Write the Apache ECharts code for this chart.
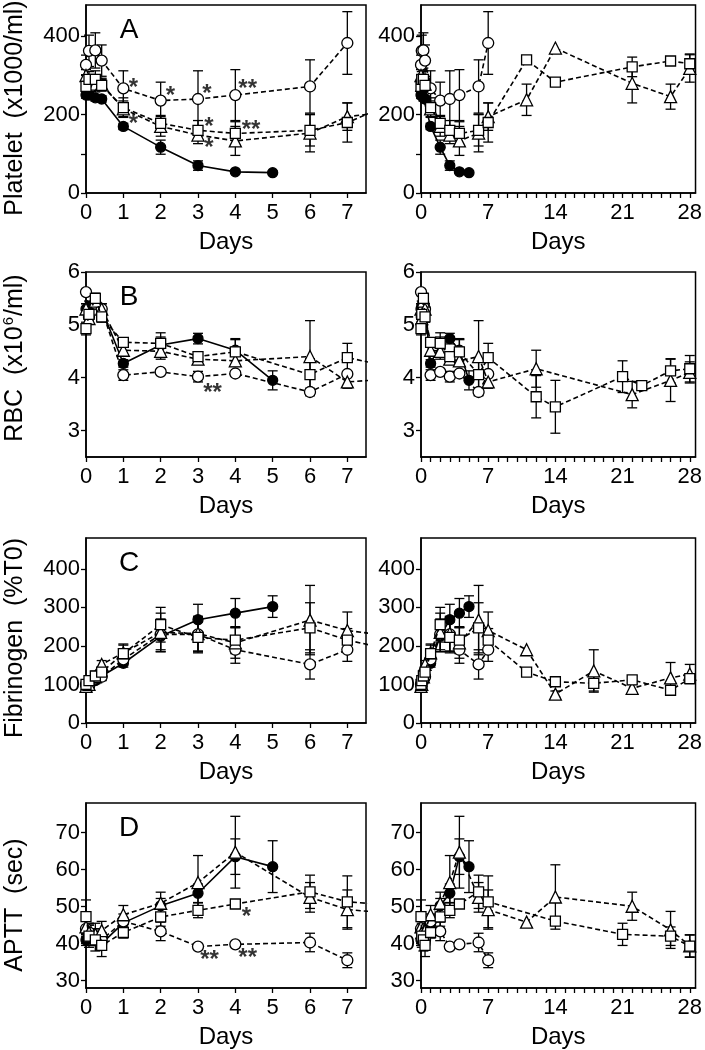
<!DOCTYPE html>
<html><head><meta charset="utf-8">
<script src="https://cdn.jsdelivr.net/npm/echarts@6/dist/echarts.min.js"></script>
<style>html,body{margin:0;padding:0;background:#fff}#c{width:705px;height:1050px}</style>
</head><body><div id="c"></div><script>
// ---- data: [day, mean, error] ----
const pltCtrl = [[0,250,8],[0.08,250,10],[0.25,243,8],[0.42,240,8],[1,170,8],[2,117,18],[3,70,12],[4,54,4],[5,52,3]];
const pltCirc = [[0,327,25],[0.08,363,40],[0.25,364,45],[0.42,338,40],[1,267,45],[2,236,47],[3,240,72],[4,250,65],[6,272,68],[7,383,80]];
const pltTri  = [[0,300,15],[0.08,275,20],[0.25,278,20],[0.42,278,15],[1,215,20],[2,170,25],[3,148,22],[4,133,37],[6,153,48],[7,195,35],[11,238,40],[14,370,0],[22,280,50],[26,246,32],[28,318,35]];
const pltSq   = [[0,272,20],[0.08,290,20],[0.25,290,22],[0.42,275,15],[1,218,25],[2,178,20],[3,160,25],[4,152,30],[6,160,40],[7,180,50],[11,340,0],[14,283,10],[22,322,25],[26,337,0],[28,330,25]];
const pltStars = [[1.27,283,'*'],[1.27,190,'*'],[2.26,262,'*'],[3.24,266,'*'],[3.29,184,'*'],[3.29,130,'*'],[4.33,279,'**'],[4.42,175,'**']];

const rbcCtrl = [[0,5.3,0.1],[0.08,5.35,0.1],[0.25,5.45,0.12],[0.42,5.3,0.1],[1,4.27,0.07],[2,4.62,0.15],[3,4.74,0.1],[4,4.52,0.2],[5,3.95,0.18]];
const rbcCirc = [[0,5.62,0.05],[0.08,5.15,0.1],[0.25,5.4,0.1],[0.42,5.3,0.1],[1,4.05,0.1],[2,4.11,0.05],[3,4.02,0.1],[4,4.08,0.05],[6,3.73,0.07],[7,4.07,0.05]];
const rbcTri  = [[0,5.3,0.1],[0.08,5.12,0.1],[0.25,5.45,0.1],[0.42,5.3,0.1],[1,4.52,0.1],[2,4.5,0.15],[3,4.35,0.1],[4,4.32,0.1],[6,4.4,0.68],[7,3.92,0.12],[12,4.17,0.35],[22,3.68,0.25],[26,3.95,0.4],[28,4.1,0.2]];
const rbcSq   = [[0,4.93,0.12],[0.08,5.2,0.1],[0.25,5.5,0.1],[0.42,5.15,0.1],[1,4.67,0.08],[2,4.65,0.2],[3,4.4,0.08],[4,4.49,0.25],[6,4.06,0.3],[7,4.38,0.27],[12,3.64,0.4],[14,3.45,0.5],[21,4.02,0.3],[23,3.85,0],[26,4.13,0.23],[28,4.17,0.25]];
const rbcStars = [[3.39,3.82,'**']];

const fibCtrl = [[0,100,5],[0.25,110,8],[0.42,122,10],[1,155,10],[2,225,40],[3,268,40],[4,285,38],[5,302,28]];
const fibCirc = [[0,100,5],[0.08,95,5],[0.25,115,10],[0.42,120,10],[1,165,15],[2,230,40],[3,230,45],[4,190,35],[6,152,38],[7,190,30]];
const fibTri  = [[0,95,5],[0.08,100,5],[0.25,120,10],[0.42,152,10],[1,182,20],[2,235,50],[3,232,45],[4,208,40],[6,267,90],[7,240,48],[11,190,0],[14,75,8],[18,135,55],[22,90,10],[26,117,40],[28,127,25]];
const fibSq   = [[0,100,5],[0.08,110,8],[0.25,122,12],[0.42,132,12],[1,180,25],[2,255,45],[3,222,40],[4,215,35],[6,247,65],[7,215,30],[11,132,0],[14,107,8],[18,103,20],[22,112,10],[26,85,10],[28,115,10]];
const fibStars = [];

const apttCtrl = [[0,41,1.5],[0.08,41.5,1.5],[0.25,41,1.5],[0.42,40,1.5],[1,45.6,1.5],[2,50.2,2],[3,53.6,2.5],[4,63.5,4.8],[5,60.8,7]];
const apttCirc = [[0,44,2],[0.08,43,2],[0.25,42,2],[0.42,41,2],[1,46,2],[2,43.3,2.5],[3,39.2,0.5],[4,39.8,0.4],[6,40.3,2.5],[7,35.5,2]];
const apttTri  = [[0,44.5,2],[0.08,43,2.5],[0.25,42.5,3],[0.42,43.5,2.5],[1,47.8,2.5],[2,50.9,3],[3,56.5,7.3],[4,64.7,9.7],[6,52.5,4],[7,49.2,5.3],[11,45.8,0],[14,52.6,8.7],[22,50.1,3.8],[26,43.7,5],[28,39.4,3]];
const apttSq   = [[0,47.3,4.5],[0.08,42,3],[0.25,41,3],[0.42,39.5,3],[1,43,1.5],[2,47.2,2.5],[3,49,2],[4,50.7,1],[6,54,4.5],[7,51.3,7],[14,46.1,0.5],[21,42.5,3],[26,42,2.5],[28,39.3,3]];
const apttStars = [[3.31,37.1,'**'],[4.33,37.6,'**'],[4.3,48.7,'*']];

const leftDayTicks = [0,1,2,3,4,5,6,7];
const rightDayLabels = [0,7,14,21,28];
const rightDayTicks = Array.from({length:29},(_,i)=>i);

const panels = [
  {letter:'A', series:[pltCtrl,pltCirc,pltTri,pltSq], stars:pltStars, min:0, max:480, labels:[0,200,400], ticks:[0,100,200,300,400], top:5, height:188,
   name:'{a|Platelet  (x1000/ml)}', nameY:108},
  {letter:'B', series:[rbcCtrl,rbcCirc,rbcTri,rbcSq], stars:rbcStars, min:2.5, max:6, labels:[3,4,5,6], ticks:[3,4,5,6], top:272, height:185,
   name:'{a|RBC  (x10}{s|6}{a|/ml)}', nameY:358},
  {letter:'C', series:[fibCtrl,fibCirc,fibTri,fibSq], stars:fibStars, min:0, max:480, labels:[0,100,200,300,400], ticks:[0,100,200,300,400], top:538, height:185,
   name:'{a|Fibrinogen  (%T0)}', nameY:638},
  {letter:'D', series:[apttCtrl,apttCirc,apttTri,apttSq], stars:apttStars, min:28, max:78, labels:[30,40,50,60,70], ticks:[30,40,50,60,70], top:803, height:185,
   name:'{a|APTT  (sec)}', nameY:905}
];

const FONT = 'Liberation Sans, Arial, Helvetica, sans-serif';
const LEFT_MAX = 7.5, RIGHT_MAX = 28.6;

const grids=[], xAxes=[], yAxes=[], series=[], graphics=[];
const symbols = ['circle','circle','triangle','rect'];
const sizes = [10,11,12,10];

function renderErr(params, api){
  const x = api.value(0), y = api.value(1), e = api.value(2);
  if (!e) return null;
  const t = api.coord([x, y+e]), b = api.coord([x, y-e]);
  const hw = 5, st = {stroke:'#000', lineWidth:1.3};
  return {type:'group', children:[
    {type:'line', shape:{x1:t[0],y1:t[1],x2:b[0],y2:b[1]}, style:st},
    {type:'line', shape:{x1:t[0]-hw,y1:t[1],x2:t[0]+hw,y2:t[1]}, style:st},
    {type:'line', shape:{x1:b[0]-hw,y1:b[1],x2:b[0]+hw,y2:b[1]}, style:st}
  ]};
}

panels.forEach((p, pi) => {
  [0,1].forEach(col => {
    const g = pi*2 + col;
    const xmax = col===0 ? LEFT_MAX : RIGHT_MAX;
    grids.push({left: col===0?86:421, top:p.top, width: col===0?280:277.5, height:p.height,
      show:true, borderColor:'#000', borderWidth:1.5, backgroundColor:'transparent'});
    xAxes.push({type:'value', gridIndex:g, min:0, max:xmax,
      name:'Days', nameLocation:'middle', nameGap:37,
      nameTextStyle:{fontSize:24, color:'#000', fontFamily:FONT},
      axisLine:{show:true, onZero:false, lineStyle:{color:'#000', width:1.5}},
      axisTick:{show:true, length:5, lineStyle:{color:'#000', width:1.3},
        customValues: col===0 ? leftDayTicks : rightDayTicks},
      axisLabel:{show:true, margin:9, fontSize:22, color:'#000', fontFamily:FONT,
        customValues: col===0 ? leftDayTicks : rightDayLabels},
      splitLine:{show:false}});
    yAxes.push({type:'value', gridIndex:g, min:p.min, max:p.max,
      axisLine:{show:true, onZero:false, lineStyle:{color:'#000', width:1.5}},
      axisTick:{show:true, length:5, lineStyle:{color:'#000', width:1.3}, customValues:p.ticks},
      axisLabel:{show:true, margin:6, fontSize:22, color:'#000', fontFamily:FONT, customValues:p.labels},
      splitLine:{show:false}});
    p.series.forEach((arr, si) => {
      const data = arr.filter(d => d[0] <= xmax);
      series.push({type:'custom', xAxisIndex:g, yAxisIndex:g, renderItem:renderErr,
        data: data, encode:{x:0,y:1}, z:1, silent:true, animation:false});
    });
    p.series.forEach((arr, si) => {
      series.push({type:'line', xAxisIndex:g, yAxisIndex:g, z: 2+si,
        data: arr.map(d => [d[0], d[1]]),
        symbol: symbols[si], symbolSize: sizes[si], showSymbol:true, clip:true,
        lineStyle:{color:'#000', width:1.6, type: si===0 ? 'solid' : [5,3]},
        itemStyle:{color: si===0 ? '#000' : '#fff', borderColor:'#000', borderWidth:1.3},
        animation:false, silent:true});
    });
    if (col===0 && p.stars.length){
      series.push({type:'scatter', xAxisIndex:g, yAxisIndex:g, z:10, symbolSize:1,
        itemStyle:{color:'transparent'},
        data: p.stars.map(s => ({value:[s[0], s[1]], label:{formatter:s[2]}})),
        label:{show:true, position:'inside', offset:[0,6], fontSize:24, fontWeight:'bold', color:'#000',
          textBorderWidth:0, textBorderColor:'transparent', fontFamily:FONT},
        animation:false, silent:true});
    }
  });
  graphics.push({type:'text', x:129, y:p.top + 25, style:{text:p.letter, fill:'#000', font:'28px '+FONT, align:'center', verticalAlign:'middle'}});
  graphics.push({type:'text', x:15, y:p.nameY, rotation:Math.PI/2,
    style:{text:p.name, fill:'#000', align:'center', verticalAlign:'middle',
      rich:{a:{fontSize:25, fontFamily:FONT, fill:'#000', lineHeight:27},
            s:{fontSize:15, fontFamily:FONT, fill:'#000', verticalAlign:'top', lineHeight:27, padding:[0,1,10,1]}}}});
});

const chart = echarts.init(document.getElementById('c'), null, {renderer:'canvas'});
chart.setOption({animation:false, backgroundColor:'#fff', grid:grids, xAxis:xAxes, yAxis:yAxes, series:series, graphic:graphics});
</script></body></html>
